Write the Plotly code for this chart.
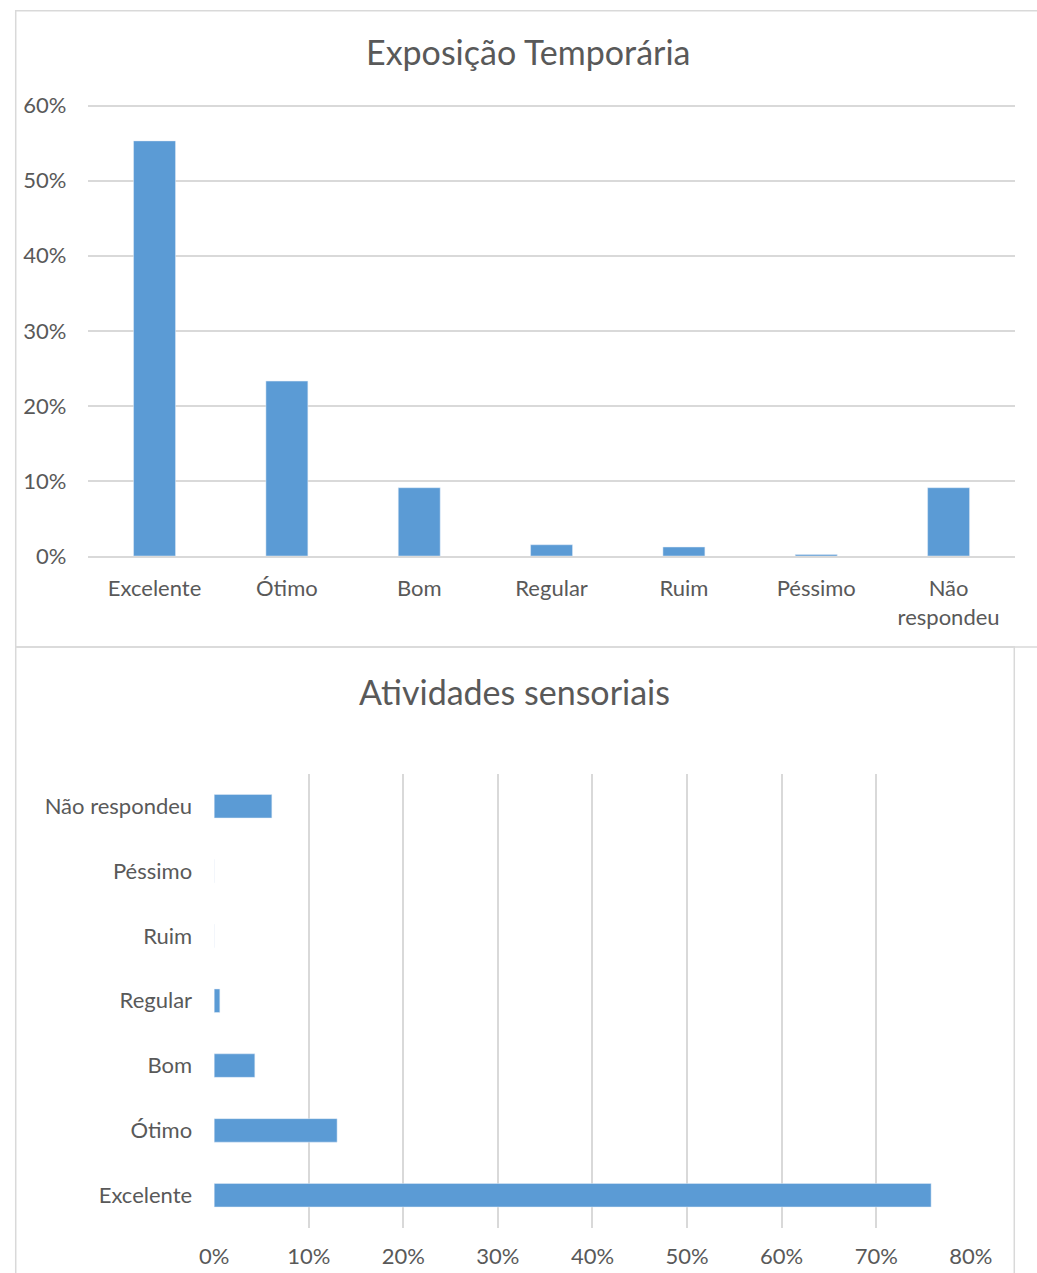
import plotly.graph_objects as go

W, H = 1037, 1273

# Data
categories_top = ["Excelente", "Ótimo", "Bom", "Regular", "Ruim", "Péssimo", "Não<br>respondeu"]
values_top = [0.553, 0.233, 0.091, 0.015, 0.012, 0.002, 0.091]

categories_bottom = ["Excelente", "Ótimo", "Bom", "Regular", "Ruim", "Péssimo", "Não respondeu"]
values_bottom = [0.758, 0.130, 0.043, 0.006, 0.0, 0.0, 0.061]

title_top = "Exposição Temporária"
title_bottom = "Atividades sensoriais"

BAR = "#5B9BD5"
TXT = "#595959"
GRID = "#D9D9D9"
FONT = "Lato"
TICK = 22

# observed page->picture mapping compensation
AX, SX = 13.5, 0.966
AY, SY = 11.5, 0.981

def fx(s):
    return (s - AX) / SX

def fy(s):
    return (s - AY) / SY

def px(s):
    return fx(s) / W

def py(s):
    return 1 - fy(s) / H

def pxf(f):
    return f / W

def pyf(f):
    return 1 - f / H

YTOP = 0.605
f0, f60 = fy(557), fy(107)
ftop = f0 - (f0 - f60) * YTOP / 0.6

fig = go.Figure()

fig.add_trace(go.Bar(x=categories_top, y=values_top, marker_color=BAR,
                     xaxis="x", yaxis="y", showlegend=False, width=0.317))
fig.add_trace(go.Bar(x=values_bottom, y=categories_bottom, orientation="h",
                     marker_color=BAR, xaxis="x2", yaxis="y2", showlegend=False,
                     width=0.363))

fig.update_layout(
    width=W, height=H,
    margin=dict(l=0, r=0, t=0, b=0),
    paper_bgcolor="white", plot_bgcolor="white",
    font=dict(family=FONT, color=TXT, size=TICK),
    xaxis=dict(domain=[px(87), px(1015)], anchor="y", showgrid=False,
               showline=True, linecolor=GRID, linewidth=1.5,
               ticks="outside", ticklen=12, tickcolor="rgba(0,0,0,0)",
               tickfont=dict(size=TICK, color=TXT), fixedrange=True),
    yaxis=dict(domain=[pyf(f0), pyf(ftop)], anchor="x", range=[0, YTOP],
               tickvals=[0, 0.1, 0.2, 0.3, 0.4, 0.5, 0.6], tickformat=".0%",
               showgrid=True, gridcolor=GRID, gridwidth=1.5, zeroline=False,
               showline=False, ticklabelstandoff=21,
               tickfont=dict(size=TICK, color=TXT), fixedrange=True),
    xaxis2=dict(domain=[px(213), px(971)], anchor="y2", range=[0, 0.8],
                tickvals=[0, 0.1, 0.2, 0.3, 0.4, 0.5, 0.6, 0.7, 0.8], tickformat=".0%",
                showgrid=True, gridcolor=GRID, gridwidth=1.5, zeroline=False,
                showline=False, ticklabelstandoff=13,
                tickfont=dict(size=TICK, color=TXT), fixedrange=True),
    yaxis2=dict(domain=[py(1228), py(774.6)], anchor="x2", showgrid=False,
                showline=False, ticklabelstandoff=21,
                tickfont=dict(size=TICK, color=TXT), fixedrange=True),
    shapes=[
        dict(type="rect", xref="paper", yref="paper",
             x0=pxf(0.75), x1=pxf(1080), y0=py(648), y1=pyf(0.75),
             line=dict(color=GRID, width=1.5), fillcolor="rgba(0,0,0,0)", layer="below"),
        dict(type="rect", xref="paper", yref="paper",
             x0=pxf(0.75), x1=pxf(min(fx(1017), W - 0.75)), y0=pyf(1320), y1=py(648),
             line=dict(color=GRID, width=1.5), fillcolor="rgba(0,0,0,0)", layer="below"),
    ],
    annotations=[
        dict(text=title_top, xref="paper", yref="paper", x=px(528), y=py(53),
             xanchor="center", yanchor="middle", showarrow=False,
             font=dict(size=34, color=TXT, family=FONT)),
        dict(text=title_bottom, xref="paper", yref="paper", x=px(514), y=py(692),
             xanchor="center", yanchor="middle", showarrow=False,
             font=dict(size=34, color=TXT, family=FONT)),
    ],
)

fig.write_html("out.html")
